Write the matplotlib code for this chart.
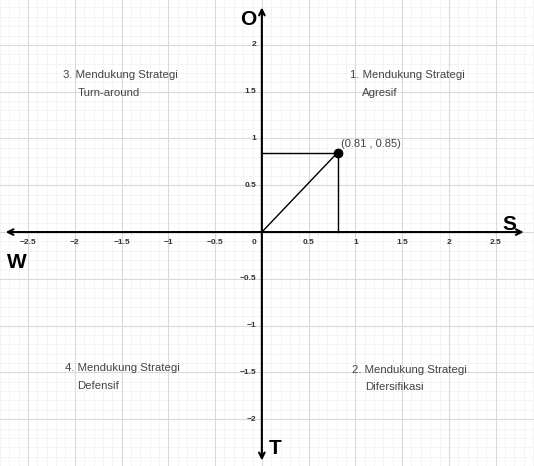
import matplotlib
matplotlib.use('agg')
import matplotlib.pyplot as plt
import numpy as np

plt.rcParams['font.family'] = ['Liberation Sans', 'DejaVu Sans']

# position of the organisation in the SWOT diagram
POINT_X = 0.81
POINT_Y = 0.85
POINT_LABEL = "(0.81 , 0.85)"

X_TICKS = [-2.5, -2, -1.5, -1, -0.5, 0.5, 1, 1.5, 2, 2.5]
Y_TICKS = [-2, -1.5, -1, -0.5, 0.5, 1, 1.5, 2]

QUADRANTS = [
    ("1. Mendukung Strategi", "Agresif", 0.94, 1.07, 1.68),
    ("2. Mendukung Strategi", "Difersifikasi", 0.96, 1.10, -1.47),
    ("3. Mendukung Strategi", "Turn-around", -2.13, -1.97, 1.68),
    ("4. Mendukung Strategi", "Defensif", -2.11, -1.97, -1.45),
]

AXIS_NAMES = {"O": (-0.06, 2.27), "S": (2.57, 0.08), "W": (-2.72, -0.32), "T": (0.07, -2.31)}


def fmt(v):
    s = ('%g' % v)
    return s.replace('-', '\u2212')


def main():
    fig = plt.figure(figsize=(5.34, 4.66), dpi=100)
    ax = fig.add_axes([0, 0, 1, 1])
    ax.set_xlim(-2.80, 2.91)
    ax.set_ylim(-2.50, 2.48)
    ax.axis('off')

    # grid: faint minor every 0.1, major every 0.5
    for v in np.arange(-2.8, 2.95, 0.1):
        ax.axvline(v, color='#f3f3f3', lw=0.6, zorder=0)
    for v in np.arange(-2.5, 2.5, 0.1):
        ax.axhline(v, color='#f3f3f3', lw=0.6, zorder=0)
    for v in np.arange(-2.5, 2.51, 0.5):
        ax.axvline(v, color='#d9d9d9', lw=0.8, zorder=1)
    for v in np.arange(-2.0, 2.01, 0.5):
        ax.axhline(v, color='#d9d9d9', lw=0.8, zorder=1)

    # axes with arrows at both ends
    arr = dict(arrowstyle='<->', color='black', lw=1.5, mutation_scale=10)
    ax.annotate('', xy=(2.83, 0), xytext=(-2.77, 0), arrowprops=arr, zorder=3)
    ax.annotate('', xy=(0, 2.43), xytext=(0, -2.47), arrowprops=arr, zorder=3)

    for t in X_TICKS:
        ax.text(t, -0.07, fmt(t), fontsize=6, color='#333333', ha='center', va='top',
                fontweight='bold')
    for t in Y_TICKS:
        ax.text(-0.06, t, fmt(t), fontsize=6, color='#333333', ha='right', va='center',
                fontweight='bold')
    ax.text(-0.06, -0.07, '0', fontsize=6, color='#333333', ha='right', va='top',
            fontweight='bold')

    # projection lines and the point
    ax.plot([0, POINT_X], [POINT_Y, POINT_Y], color='black', lw=1, zorder=4)
    ax.plot([POINT_X, POINT_X], [0, POINT_Y], color='black', lw=1, zorder=4)
    ax.plot([0, POINT_X], [0, POINT_Y], color='black', lw=1, zorder=4)
    ax.plot([POINT_X], [POINT_Y], 'o', color='black', ms=6, zorder=5)
    ax.text(POINT_X + 0.04, POINT_Y + 0.09, POINT_LABEL, fontsize=8, color='#444444',
            ha='left', va='center')

    for line1, line2, x1, x2, y in QUADRANTS:
        ax.text(x1, y, line1, fontsize=8.2, color='#444444', ha='left', va='center')
        ax.text(x2, y - 0.19, line2, fontsize=8.2, color='#444444', ha='left', va='center')

    for name, (x, y) in AXIS_NAMES.items():
        ha = 'right' if name == 'O' else 'left'
        ax.text(x, y, name, fontsize=15, fontweight='bold', color='black', ha=ha,
                va='center')

    plt.savefig('out.png', dpi=100)


if __name__ == '__main__':
    main()
